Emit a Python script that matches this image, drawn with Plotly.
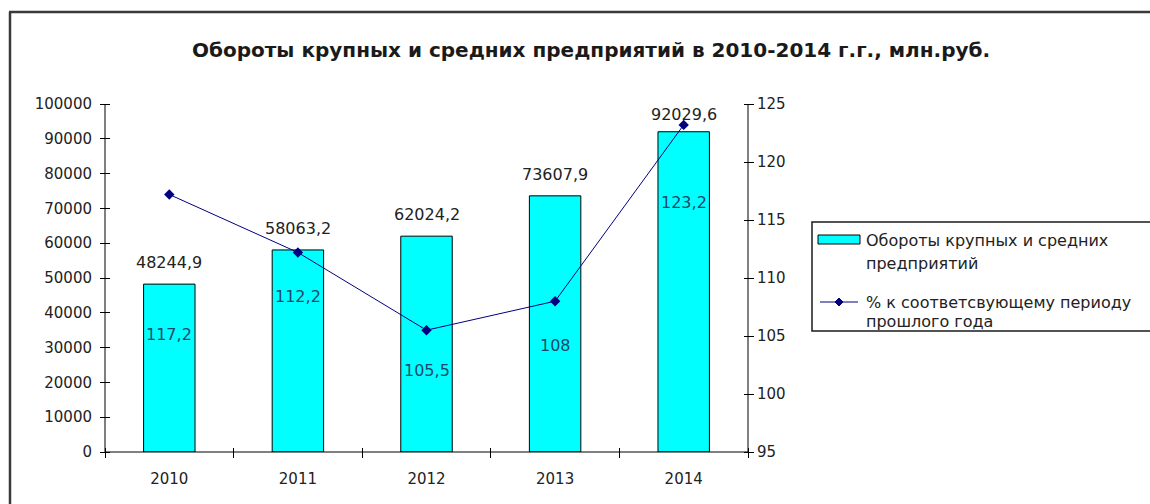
import plotly.graph_objects as go

# ---- data ----
years = ["2010", "2011", "2012", "2013", "2014"]
turnover = [48244.9, 58063.2, 62024.2, 73607.9, 92029.6]
pct_prev = [117.2, 112.2, 105.5, 108.0, 123.2]
turnover_labels = ["48244,9", "58063,2", "62024,2", "73607,9", "92029,6"]
pct_labels = ["117,2", "112,2", "105,5", "108", "123,2"]
title_text = "Обороты крупных и средних предприятий в 2010-2014 г.г., млн.руб."
legend_bar = ["Обороты крупных и средних", "предприятий"]
legend_line = ["% к соответсвующему периоду", "прошлого года"]

W, H = 1150, 504
L, R, T, B = 105, 402, 104, 52
PW, PH = W - L - R, H - T - B

def px(x):
    return (x - L) / PW

def py(y):
    return (H - B - y) / PH

FONT = "DejaVu Sans, Arial, sans-serif"
TXT = "#222222"
HALF = 5  # half length of the cross ticks

fig = go.Figure()
fig.add_trace(go.Bar(
    x=years, y=turnover, name=" ".join(legend_bar),
    marker=dict(color="#00FFFF", line=dict(color="#000000", width=1)),
    width=0.4, showlegend=False, yaxis="y", xaxis="x",
))
fig.add_trace(go.Scatter(
    x=years, y=pct_prev, name=" ".join(legend_line), mode="lines+markers",
    line=dict(color="#000080", width=1),
    marker=dict(symbol="diamond", size=8, color="#000080"),
    yaxis="y2", xaxis="x", showlegend=False, cliponaxis=False,
))

ann = []
bar_shift = [10, 10, 10, 10, 6]
for i, (v, t, s) in enumerate(zip(turnover, turnover_labels, bar_shift)):
    ann.append(dict(x=i, y=v, xref="x", yref="y", text=t, showarrow=False,
                    yanchor="bottom", yshift=s,
                    font=dict(family=FONT, size=16, color=TXT)))
pct_shift = [-140, -44, -40, -44, -78]
for i, (v, t, s) in enumerate(zip(pct_prev, pct_labels, pct_shift)):
    ann.append(dict(x=i, y=v, xref="x", yref="y2", text=t, showarrow=False,
                    yanchor="middle", yshift=s,
                    font=dict(family=FONT, size=16, color="#1a4a6a")))

# legend texts
leg_rows = [(legend_bar[0], 240), (legend_bar[1], 263), (legend_line[0], 302), (legend_line[1], 321)]
for t, yy in leg_rows:
    ann.append(dict(x=px(864), y=py(yy), xref="paper", yref="paper", text=t,
                    showarrow=False, xanchor="left", yanchor="middle",
                    font=dict(family=FONT, size=16, color=TXT)))

ann.append(dict(x=px(591), y=py(50), xref="paper", yref="paper", text="<b>" + title_text + "</b>",
                showarrow=False, xanchor="center", yanchor="middle",
                font=dict(family=FONT, size=20, color="#1a1a1a")))

shapes = [
    # axis lines (ticks come from the axes themselves)
    dict(type="line", xref="paper", yref="paper", x0=0, y0=0, x1=0, y1=1,
         line=dict(color="black", width=1), layer="above"),
    dict(type="line", xref="paper", yref="paper", x0=1, y0=0, x1=1, y1=1,
         line=dict(color="black", width=1), layer="above"),
    dict(type="line", xref="paper", yref="paper", x0=0, y0=0, x1=1, y1=0,
         line=dict(color="black", width=1), layer="above"),
    # outer frame (left & top edges)
    dict(type="line", xref="paper", yref="paper", x0=px(10), y0=py(520), x1=px(10), y1=py(12),
         line=dict(color="#3a3a3a", width=2.5)),
    dict(type="line", xref="paper", yref="paper", x0=px(9), y0=py(12), x1=px(1160), y1=py(12),
         line=dict(color="#3a3a3a", width=2.5)),
    # legend box
    dict(type="rect", xref="paper", yref="paper", x0=px(812), y0=py(222), x1=px(1170), y1=py(331),
         line=dict(color="#1a1a1a", width=1.5), fillcolor="rgba(0,0,0,0)"),
    # legend bar swatch
    dict(type="rect", xref="paper", yref="paper", x0=px(818), y0=py(235), x1=px(860), y1=py(244),
         line=dict(color="#000000", width=1), fillcolor="#00FFFF"),
    # legend line swatch
    dict(type="line", xref="paper", yref="paper", x0=px(820), y0=py(302), x1=px(858), y1=py(302),
         line=dict(color="#000080", width=1)),
    dict(type="path", xref="paper", yref="paper", xsizemode="pixel", ysizemode="pixel",
         xanchor=px(839), yanchor=py(302), path="M 0 4 L 4 0 L 0 -4 L -4 0 Z",
         fillcolor="#000080", line=dict(color="#000080", width=1)),
]

tickfont = dict(family=FONT, size=15, color=TXT)
fig.update_layout(
    width=W, height=H, margin=dict(l=L, r=R, t=T, b=B),
    paper_bgcolor="white", plot_bgcolor="white",
    showlegend=False, bargap=0.6,
    annotations=ann, shapes=shapes,
    # axes are shifted by half a tick into the plot so their outside ticks cross the axis line
    xaxis=dict(type="category", categoryorder="array", categoryarray=years,
               range=[-0.5, 4.5], tickson="boundaries", ticks="outside", ticklen=2 * HALF,
               tickcolor="black", showline=False, showgrid=False, tickfont=tickfont,
               ticklabelstandoff=21, zeroline=False,
               anchor="free", position=py(H - B - HALF)),
    yaxis=dict(range=[0, 100000], dtick=10000, ticks="outside", ticklen=2 * HALF,
               tickcolor="black", showline=False, showgrid=False, zeroline=False,
               tickfont=tickfont, tickformat="d", ticklabelstandoff=5,
               anchor="free", position=px(L + HALF)),
    yaxis2=dict(range=[95, 125], dtick=5, overlaying="y", side="right",
                ticks="outside", ticklen=2 * HALF, tickcolor="black", showline=False,
                showgrid=False, zeroline=False, tickfont=tickfont, ticklabelstandoff=0,
                anchor="free", position=px(W - R - HALF)),
)

fig.write_html("out.html", config={"displayModeBar": False},
               post_script="document.body.style.margin='0';document.body.style.overflow='hidden';")
